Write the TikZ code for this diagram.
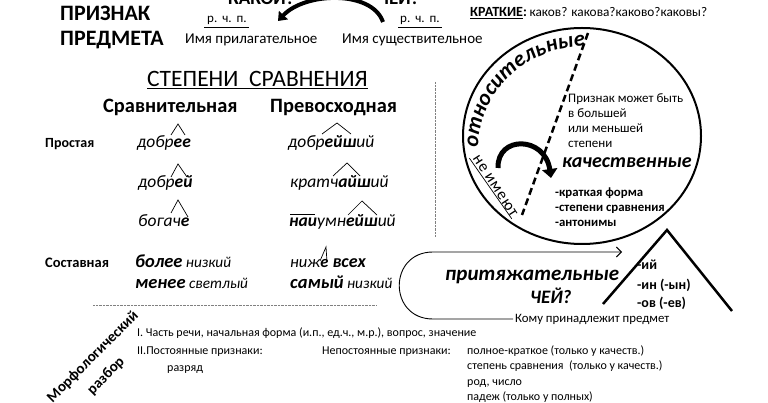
\documentclass[tikz,border=0pt]{standalone}
\usepackage{fontspec}
\setmainfont{Carlito}
\usetikzlibrary{arrows.meta,decorations.text}
\newcommand\myfs[1]{\fontsize{#1}{#1}\selectfont}
\begin{document}
\begin{tikzpicture}[x=1pt,y=-1pt,
  tx/.style={inner sep=0pt,anchor=base west},
  caret/.style={line width=0.7pt},
  dotline/.style={gray,line width=0.8pt,dash pattern=on 0.7pt off 0.7pt},
  it/.style={tx,font=\myfs{17.5}\itshape}]
\useasboundingbox (0,0) rectangle (768,403);
% title
\node[tx,font=\myfs{22}\bfseries] (priz) at (60,21) {ПРИЗНАК};
\node[tx,font=\myfs{22}\bfseries] (pred) at (60,46) {ПРЕДМЕТА};
\node[tx,font=\myfs{19}\bfseries] (kakoi) at (228,5) {КАКОЙ?};
\node[tx,font=\myfs{19}\bfseries] (chei) at (378,5) {ЧЕЙ?};
\node[tx,font=\myfs{13}] (rchp1) at (207,23) {р.\hspace{5pt}ч.\hspace{5pt}п.};
\node[tx,font=\myfs{13}] (rchp2) at (400,23) {р.\hspace{5pt}ч.\hspace{5pt}п.};
\draw[line width=0.6pt] ([xshift=-3pt,yshift=-4pt]rchp1.base west) -- ([xshift=2pt,yshift=-4pt]rchp1.base east);
\draw[line width=0.6pt] ([xshift=-2pt,yshift=-4pt]rchp2.base west) -- ([xshift=2pt,yshift=-4pt]rchp2.base east);
\node[tx,font=\myfs{15}] (adj) at (185,44) {Имя прилагательное};
\node[tx,font=\myfs{15}] (noun) at (342,44) {Имя существительное};
\coordinate (ta) at (383,22);
\coordinate (tb) at (278,21);
\draw[line width=4pt,-{Triangle[length=8pt,width=12pt]}] (ta) .. controls (372,-10) and (305,-8) .. (tb);
% kratkie
\node[tx,font=\myfs{14}\bfseries] (krat) at (470,17) {\underline{КРАТКИЕ}:};
\node[tx,font=\myfs{13.3}] (kakov) at (krat.base east) {\,каков? какова?каково?каковы?};
% stepeni
\node[tx,font=\myfs{23.5}] (step) at (147,87) {\underline{СТЕПЕНИ\ \ СРАВНЕНИЯ}};
\node[tx,font=\myfs{20.4}\bfseries] (srav) at (103,113) {Сравнительная};
\node[tx,font=\myfs{20.4}\bfseries] (prev) at (270,113) {Превосходная};
\node[tx,font=\myfs{14}\bfseries] (prost) at (45,148) {Простая};
\node[it] (w1) at (137,148) {добр\textbf{ее}};
\node[it] (w2) at (288,148) {добр\textbf{ейш}ий};
\node[it] (w3) at (138,188) {добр\textbf{ей}};
\node[it] (w4) at (290,188) {кратч\textbf{айш}ий};
\node[it] (w5) at (138,227) {богач\textbf{е}};
\node[it] (w6) at (289,227) {\textbf{наи}умн\textbf{ейш}ий};
\draw[caret] (171,135) -- (178,124) -- (185,135);
\draw[caret] (322,134) -- (337,123) -- (351,134);
\draw[caret] (171,177) -- (178,164) -- (187,177);
\draw[caret] (333,176) -- (347,163) -- (360,176);
\draw[caret] (171,213) -- (178,200) -- (188,217);
\draw[caret] (348,215) -- (362,201) -- (377,215);
\draw[caret] (290,214) -- (315,214);
\draw[caret] (320,261) -- (326,247) -- (327,262);
\node[tx,font=\myfs{14.5}\bfseries] (sost) at (45,268) {Составная};
\node[tx,font=\myfs{15.3}\itshape] (w7) at (135,268) {\textbf{\myfs{18.5}более} низкий};
\node[tx,font=\myfs{15.3}\itshape] (w8) at (135,288) {\textbf{\myfs{18.5}менее} светлый};
\node[tx,font=\myfs{16.5}\itshape] (w9) at (290,268) {ниж\textbf{е\myfs{18} всех}};
\node[tx,font=\myfs{15.3}\itshape] (w10) at (290,288) {\textbf{\myfs{18.5}самый} низкий};
\coordinate (dh1) at (93,305); \coordinate (dh2) at (377,305);
\draw[dotline] (dh1) -- (dh2);
\coordinate (dv1) at (435,82); \coordinate (dv2) at (435,237);
\draw[dotline] (dv1) -- (dv2);
% circle
\draw[line width=2pt] (582,136) ellipse [x radius=119pt, y radius=108pt];
\coordinate (da) at (588,33); \coordinate (db) at (522,215);
\draw[line width=2.5pt,dash pattern=on 7pt off 4pt] (da) -- (db);
\path[decorate,decoration={text along path,text align=center,
  text={|\myfs{22}\bfseries\itshape|относительные}}]
  (478,150) .. controls (478,92) and (526,46) .. (588,46);
\node[inner sep=0.5pt,font=\myfs{16}\addfontfeature{LetterSpace=6},rotate=-57] (neim) at (495,186) {не имеют};
\draw[line width=0.7pt] ([xshift=-2pt]neim.south west) -- ([xshift=1pt]neim.south east);
\coordinate (ca) at (498,168); \coordinate (cb) at (551,178);
\draw[line width=5pt,-{Triangle[length=9pt,width=15pt]}] (ca) .. controls (497,135) and (545,136) .. (cb);
\node[tx,font=\myfs{13}] (pr1) at (568,103) {Признак может быть};
\node[tx,font=\myfs{13}] (pr2) at (568,118) {в большей};
\node[tx,font=\myfs{13}] (pr3) at (568,133) {или меньшей};
\node[tx,font=\myfs{13}] (pr4) at (568,148) {степени};
\node[tx,font=\myfs{20}\bfseries\itshape] (kach) at (562,168) {качественные};
\node[tx,font=\myfs{12.8}\bfseries] (k1) at (555,197) {-краткая форма};
\node[tx,font=\myfs{12.8}\bfseries] (k2) at (555,212) {-степени сравнения};
\node[tx,font=\myfs{12.8}\bfseries] (k3) at (555,227) {-антонимы};
% triangle
\coordinate (t1) at (603,304); \coordinate (t2) at (667,230); \coordinate (t3) at (732,311);
\draw[line width=2.5pt] (t1) -- (t2) -- (t3);
\node[tx,font=\myfs{14}\bfseries] (s1) at (637,270) {-ий};
\node[tx,font=\myfs{14}\bfseries] (s2) at (637,290) {-ин (-ын)};
\node[tx,font=\myfs{14}\bfseries] (s3) at (637,308) {-ов (-ев)};
% loop
\node[tx,font=\myfs{21}\bfseries\itshape] (prit) at (445,280) {притяжательные};
\node[tx,font=\myfs{19}\bfseries\itshape] (chei2) at (530,303) {ЧЕЙ?};
\node[tx,font=\myfs{12.8}] (komu) at (515,322) {Кому принадлежит предмет};
\coordinate (la) at (513,319); \coordinate (lb) at (433,319); \coordinate (lc) at (433,252); \coordinate (ld) at (622,252);
\draw[line width=0.9pt,-{Straight Barb[length=5pt,width=10pt]}] (la) -- (lb) .. controls (388,319) and (388,252) .. (lc) -- (ld);
% morph
\node[font=\myfs{15}\bfseries,rotate=45,inner sep=0pt] (morf) at (93,357) {Морфологический};
\node[font=\myfs{15}\bfseries,rotate=45,inner sep=0pt] (razb) at (106,376) {разбор};
\node[tx,font=\myfs{12}] (m1) at (137,336) {I. Часть речи, начальная форма (и.п., ед.ч., м.р.), вопрос, значение};
\node[tx,font=\myfs{12}] (m2) at (137,354) {II.Постоянные признаки:};
\node[tx,font=\myfs{12}] (m3) at (167,371) {разряд};
\node[tx,font=\myfs{12}] (m4) at (322,354) {Непостоянные признаки:};
\node[tx,font=\myfs{12}] (m5) at (467,354) {полное-краткое (только у качеств.)};
\node[tx,font=\myfs{12}] (m6) at (467,369) {степень сравнения\ \ (только у качеств.)};
\node[tx,font=\myfs{12}] (m7) at (467,385) {род, число};
\node[tx,font=\myfs{12}] (m8) at (467,400) {падеж (только у полных)};
\end{tikzpicture}
\end{document}
